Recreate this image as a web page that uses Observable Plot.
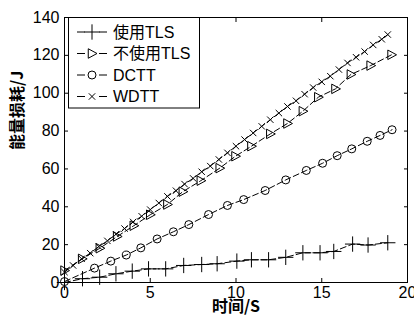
<!DOCTYPE html>
<html><head><meta charset="utf-8">
<script src="https://cdn.jsdelivr.net/npm/d3@7"></script>
<script src="https://cdn.jsdelivr.net/npm/@observablehq/plot@0.6"></script>
<style>
html,body{margin:0;padding:0;background:#fff;}
#wrap{position:relative;width:414px;height:320px;}
#legend{position:absolute;left:0;top:0;pointer-events:none;}
</style></head><body><div id="wrap"></div>
<script>
const xTicks = [0, 5, 10, 15, 20];
const yTicks = [0, 20, 40, 60, 80, 100, 120, 140];
const seriesNames = ["使用TLS", "不使用TLS", "DCTT", "WDTT"];

const tlsX = [0,1.05,2.05,3,3.95,4.9,5.9,6.95,8,8.9,10.05,10.9,11.9,12.9,13.9,14.9,15.7,16.8,17.7,18.85];
const tlsY = [0,2,2.8,4.6,6,7.2,7.2,9,9.5,9.9,11.3,12,12,13.3,15.7,15.7,16.4,20.3,19.8,21];

const noTlsX = [0,1.03,2.06,3.07,4.04,5,6,6.9,7.95,9.05,9.97,10.9,12,13,13.9,14.8,15.8,16.7,17.85,19.07];
const noTlsY = [6.3,12.5,18.1,24.3,30,35.8,41.2,48,53.8,60.4,66.7,72,78.5,84,90.5,97.9,102.3,109.9,114.6,120.3];

const dcttX = [0,1.75,2.7,3.6,4.45,5.4,6.35,7.25,8.4,9.5,10.45,11.7,12.9,14.1,15.05,15.9,16.75,17.65,18.4,19.1];
const dcttY = [0.5,7.6,11.3,14.5,18.3,23,26.8,30.6,35.9,40.7,43.8,48.6,54.2,59.2,63,67,70.6,74.6,77.7,80.7];

const wdttX = [0,0.5,1,1.5,2,2.5,3,3.5,4,4.5,5,5.5,6,6.5,7,7.5,8,8.5,9,9.5,10,10.5,11,11.5,12,12.5,13,13.5,14,14.5,15,15.5,16,16.5,17,17.5,18,18.5,18.85];
const wdttY = [5.5,9,12.5,15.5,19,22,25.5,28.5,32,35,38.5,42,45.5,48.5,52,55,58.5,61.5,65,68.5,72,75.5,79,82.5,86,89.5,93,96,99.5,103,106,109,112.5,116,119,122,125.5,128.5,131];

const triRight = {draw(ctx, size){ const r = Math.sqrt(size/Math.PI); ctx.moveTo(r,0); ctx.lineTo(-r*0.75,-r*0.95); ctx.lineTo(-r*0.75,r*0.95); ctx.closePath(); }};

const series = [
  {name: seriesNames[0], xs: tlsX, ys: tlsY, symbol: "plus", d3sym: d3.symbolPlus, r: 5},
  {name: seriesNames[1], xs: noTlsX, ys: noTlsY, symbol: triRight, d3sym: triRight, r: 5},
  {name: seriesNames[2], xs: dcttX, ys: dcttY, symbol: "circle", d3sym: d3.symbolCircle, r: 4},
  {name: seriesNames[3], xs: wdttX, ys: wdttY, symbol: "times", d3sym: d3.symbolTimes, r: 3}
];

const font = "'Liberation Sans', Arial, 'Noto Sans CJK SC', sans-serif";

const marks = [
  Plot.frame({stroke: "#000"}),
  Plot.axisX({ticks: xTicks, tickSize: -4, tickPadding: 8, label: null}),
  Plot.axisX({anchor: "top", ticks: xTicks, tickSize: -4, tickFormat: () => "", label: null}),
  Plot.axisY({ticks: yTicks, tickSize: -4, tickPadding: 9, label: null}),
  Plot.axisY({anchor: "right", ticks: yTicks, tickSize: -4, tickFormat: () => "", label: null})
];
for (const s of series) {
  const rows = s.xs.map((x, i) => ({x, y: s.ys[i]}));
  marks.push(Plot.line(rows, {x: "x", y: "y", stroke: "#000", strokeWidth: 1, strokeDasharray: "6,3"}));
  marks.push(Plot.dot(rows, {x: "x", y: "y", symbol: s.symbol, r: s.r, stroke: "#000", fill: "none", strokeWidth: 1}));
}
marks.push(Plot.text(["时间/S"], {frameAnchor: "bottom", dy: 29, fontWeight: "bold", fontSize: 16, fontFamily: "'Noto Sans CJK SC', sans-serif"}));
marks.push(Plot.text(["能量损耗/J"], {frameAnchor: "left", dx: -47, rotate: -90, fontWeight: "bold", fontSize: 16, fontFamily: "'Noto Sans CJK SC', sans-serif"}));

const chart = Plot.plot({
  width: 414, height: 320,
  marginLeft: 64, marginRight: 7, marginTop: 17, marginBottom: 38,
  style: {fontFamily: font, fontSize: "16px", color: "#000", background: "#fff", overflow: "visible"},
  x: {domain: [0, 20]},
  y: {domain: [0, 140]},
  marks
});
const wrap = document.getElementById("wrap");
wrap.appendChild(chart);

// Legend overlay
const lg = d3.select(wrap).append("svg").attr("id", "legend").attr("width", 414).attr("height", 320);
lg.append("rect").attr("x", 68.5).attr("y", 17.5).attr("width", 131).attr("height", 90.5)
  .attr("fill", "#fff").attr("stroke", "#000");
series.forEach((s, i) => {
  const y = 32 + i * 21.5;
  lg.append("line").attr("x1", 77).attr("x2", 107).attr("y1", y).attr("y2", y)
    .attr("stroke", "#000").attr("stroke-dasharray", "8,14,8");
  lg.append("path").attr("d", d3.symbol(s.d3sym, Math.PI * s.r * s.r)())
    .attr("transform", `translate(92,${y})`).attr("fill", "none").attr("stroke", "#000");
  lg.append("text").attr("x", 113).attr("y", y).attr("dy", "0.35em")
    .attr("font-family", font).attr("font-size", 16).text(s.name);
});
</script></body></html>
